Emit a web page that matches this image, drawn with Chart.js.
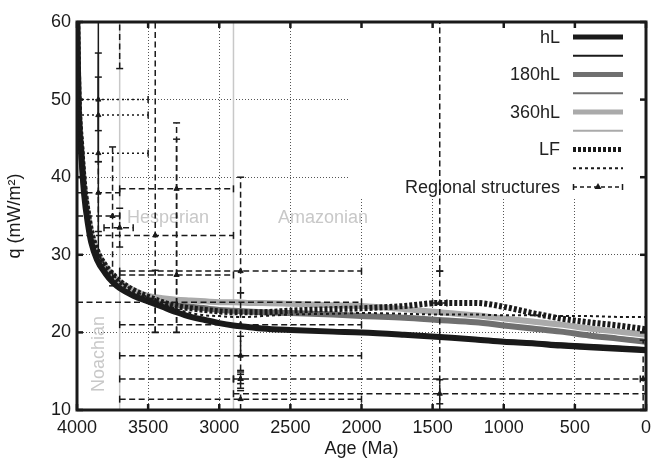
<!DOCTYPE html>
<html><head><meta charset="utf-8">
<script src="https://cdn.jsdelivr.net/npm/chart.js@4/dist/chart.umd.min.js"></script>
<style>html,body{margin:0;padding:0;background:#fff}</style>
</head><body>
<canvas id="c" width="664" height="460" style="width:664px;height:460px"></canvas>
<script>
// ---- data ----
const ages = [4000,3990,3970,3950,3920,3900,3860,3800,3750,3700,3600,3500,3400,3300,3200,3100,3000,2900,2800,2700,2500,2200,2000,1700,1450,1200,1000,800,600,400,200,0];
const qHL      = [62,50,43,37.8,33.6,31.6,29.4,27.6,26.5,25.7,24.7,24.0,23.3,22.6,22.0,21.6,21.2,20.9,20.7,20.5,20.3,20.1,20.0,19.7,19.4,19.1,18.8,18.6,18.3,18.1,17.9,17.7];
const qHLthin  = [62,50,43,37.8,33.6,31.6,29.4,27.6,26.5,25.7,24.7,24.0,23.3,22.6,22.0,21.6,21.2,20.9,20.7,20.5,20.3,20.1,20.0,19.7,19.5,19.2,19.0,18.8,18.6,18.4,18.2,18.0];
const q180     = [62,50.5,43.5,38.8,34.6,32.6,30.3,28.4,27.3,26.4,25.3,24.5,24.0,23.6,23.3,23.1,22.9,22.8,22.7,22.6,22.5,22.3,22.1,21.9,21.6,21.3,20.9,20.5,20.1,19.6,19.2,18.8];
const q180thin = [62,50.5,43.5,38.8,34.6,32.6,30.3,28.4,27.3,26.4,25.3,24.5,24.0,23.6,23.3,23.1,22.9,22.8,22.7,22.6,22.5,22.3,22.1,21.9,21.6,21.3,21.0,20.6,20.2,19.8,19.4,19.0];
const q360     = [62,50.5,43.5,38.8,34.6,32.6,30.4,28.5,27.4,26.5,25.4,24.7,24.4,24.2,24.1,24.0,23.9,23.9,23.8,23.8,23.7,23.5,23.4,23.0,22.6,22.2,21.8,21.4,21.0,20.5,20.1,19.7];
const q360thin = [62,50.5,43.5,38.8,34.6,32.6,30.4,28.5,27.4,26.5,25.4,24.7,24.4,24.2,24.1,24.0,23.9,23.9,23.8,23.8,23.7,23.5,23.4,23.0,22.6,22.2,21.9,21.5,21.1,20.7,20.3,20.0];
const qLF      = [62,51,44,39,35,33,30.6,28.6,27.5,26.6,25.4,24.6,23.9,23.4,23.1,22.9,22.7,22.6,22.6,22.6,22.8,23.0,23.1,23.4,23.8,23.8,23.3,22.5,21.8,21.3,20.9,20.4];
const qLFthin  = [62,51,44,39,35,33,30.6,28.6,27.5,26.6,25.4,24.5,23.7,23.0,22.5,22.2,22.1,22.0,22.0,22.1,22.3,22.4,22.5,22.4,22.3,22.3,22.2,22.2,22.1,22.1,22.0,22.0];

// regional structures (age Ma, age range, heat flow q, q range)
const regAge    = [3850,3850,3850,3850,3750,3700,3700,3300,3450,3300,2850,3450,2850,2850,2850,2850,1450,2850,1450,1450,20];
const regAgeMin = [4000,4000,4000,4000,4000,3810,3750,3700,4000,3700,3700,4000,3700,3700,3700,2900,2900,3700,1500,1500,40];
const regAgeMax = [3500,3500,3500,3700,3700,3605,3650,2900,2900,2900,2000,2000,2000,2000,2900,0,0,2000,1400,1400,0];
const regQ      = [50.0,48.0,43.1,38.0,35.0,33.5,63,38.5,32.5,27.4,27.9,23.9,21.0,17.0,14.0,14.0,12.1,11.4,23.8,65,14.0];
const regQMin   = [46,42,30,33,26,31,54,20,20,20,25.1,20,17,15.1,13.4,12.8,10.8,10,10,27.9,10];
const regQMax   = [65,56,52.9,42,43.9,36,70,47,65,44.9,40,28,25.1,19.5,14.6,14.9,13.9,12.5,27.9,70,19];
const regGroup  = ['b','b','b','a','a','a','a','a','a','a','a','a','a','a','a','a','a','a','a','a','a'];

const periodBounds = [3700, 2900];
const periodNames = ['Noachian','Hesperian','Amazonian'];
const xTicks = [4000,3500,3000,2500,2000,1500,1000,500,0];
const yTicks = [10,20,30,40,50,60];

// ---- build datasets ----
const FONT = "'Liberation Sans', Arial, Helvetica, sans-serif";
const INK = '#1a1a1a';
const mk = (arr) => ages.map((a,i)=>({x:a,y:arr[i]}));
const datasets = [];

periodBounds.forEach(b => datasets.push({
  label:'bound', data:[{x:b,y:10},{x:b,y:60}], borderColor:'#c8c8c8', borderWidth:1.5,
  pointRadius:0, order:100, clip:0
}));

const curve = (label, arr, color, width, dash, order) => ({
  label, data: mk(arr), borderColor: color, borderWidth: width, borderDash: dash,
  pointRadius:0, cubicInterpolationMode:'monotone', order, clip:0, borderCapStyle:'butt'
});
datasets.push(curve('180hL', q180, '#707070', 6, [], 12));
datasets.push(curve('180hL thin', q180thin, '#707070', 2, [], 11.5));
datasets.push(curve('360hL', q360, '#aaaaaa', 6, [], 10));
datasets.push(curve('360hL thin', q360thin, '#aaaaaa', 2, [], 9.5));
datasets.push(curve('hL', qHL, INK, 6, [], 8));
datasets.push(curve('hL thin', qHLthin, INK, 2, [], 7.5));
datasets.push(curve('LF', qLF, INK, 6, [3,2], 6));
datasets.push(curve('LF thin', qLFthin, INK, 2, [3,3], 5.5));

regAge.forEach((a,i) => {
  const dotted = regGroup[i] === 'b';
  datasets.push({
    label:'reg-h', data:[{x:regAgeMin[i],y:regQ[i]},{x:regAgeMax[i],y:regQ[i]}],
    borderColor:INK, borderWidth:1.5, borderDash: dotted ? [2,3] : [6,3.5],
    pointStyle:'line', pointRotation:90, pointRadius:3.5, pointBorderWidth:1.5,
    pointBorderColor:INK, order:2, clip:0
  });
  datasets.push({
    label:'reg-v', data:[{x:a,y:regQMin[i]},{x:a,y:regQMax[i]}],
    borderColor:INK, borderWidth:1.5, borderDash: dotted ? [] : [6,3.5],
    pointStyle:'line', pointRotation:0, pointRadius:3.5, pointBorderWidth:1.5,
    pointBorderColor:INK, order:2, clip:0
  });
});
datasets.push({
  label:'Regional structures', data: regAge.map((a,i)=>({x:a,y:regQ[i]})), showLine:false,
  pointStyle:'triangle', pointRadius:3, backgroundColor:INK, borderColor:INK, borderWidth:1,
  borderDash:[6,3.5], order:1, clip:0
});

// ---- plugins ----
const legendRows = [
  {text:'hL', ds:'hL'}, {text:'', ds:'hL thin'},
  {text:'180hL', ds:'180hL'}, {text:'', ds:'180hL thin'},
  {text:'360hL', ds:'360hL'}, {text:'', ds:'360hL thin'},
  {text:'LF', ds:'LF'}, {text:'', ds:'LF thin'},
  {text:'Regional structures', ds:'Regional structures', reg:true}
];

const underlay = {
  id:'underlay',
  beforeDatasetsDraw(chart){
    const {ctx, chartArea:a, scales:{x,y}} = chart;
    ctx.save();
    ctx.fillStyle = '#c8c8c8';
    ctx.font = '18px ' + FONT;
    ctx.textBaseline = 'alphabetic';
    ctx.textAlign = 'center';
    ctx.fillText(periodNames[1], x.getPixelForValue(3360), 223);
    ctx.fillText(periodNames[2], x.getPixelForValue(2270), 223);
    ctx.save();
    ctx.translate(104, 354);
    ctx.rotate(-Math.PI/2);
    ctx.fillText(periodNames[0], 0, 0);
    ctx.restore();
    ctx.fillStyle = '#fff';
    ctx.fillRect(348, a.top, a.right - 348, 197 - a.top);
    ctx.font = '18px ' + FONT;
    ctx.textAlign = 'right';
    ctx.textBaseline = 'middle';
    legendRows.forEach((r,i) => {
      const yy = 37 + i*18.75;
      const ds = chart.data.datasets.find(d => d.label === r.ds);
      if (r.text) { ctx.fillStyle = '#222'; ctx.fillText(r.text, 560, yy + 1); }
      ctx.save();
      ctx.strokeStyle = ds.borderColor;
      ctx.lineWidth = r.reg ? 1.5 : (ds.borderWidth === 6 ? 5 : 2);
      ctx.setLineDash(r.reg ? [4,3] : (ds.borderDash || []));
      ctx.beginPath(); ctx.moveTo(573, yy); ctx.lineTo(623, yy); ctx.stroke();
      if (r.reg) {
        ctx.setLineDash([]);
        ctx.beginPath();
        ctx.moveTo(573.5, yy-3); ctx.lineTo(573.5, yy+3);
        ctx.moveTo(622.5, yy-3); ctx.lineTo(622.5, yy+3);
        ctx.stroke();
        ctx.fillStyle = INK;
        ctx.beginPath(); ctx.moveTo(598, yy-4); ctx.lineTo(601.5, yy+2); ctx.lineTo(594.5, yy+2); ctx.closePath(); ctx.fill();
      }
      ctx.restore();
    });
    ctx.restore();
  }
};

const frame = {
  id:'frame',
  afterDraw(chart){
    const {ctx, chartArea:a, scales:{x,y}} = chart;
    ctx.save();
    ctx.strokeStyle = INK;
    ctx.lineWidth = 2.5;
    const L = (x1,y1,x2,y2)=>{ctx.beginPath();ctx.moveTo(x1,y1);ctx.lineTo(x2,y2);ctx.stroke();};
    xTicks.forEach(v => { const p = x.getPixelForValue(v); L(p,a.bottom,p,a.bottom-6); L(p,a.top,p,a.top+6); });
    yTicks.forEach(v => { const p = y.getPixelForValue(v); L(a.left,p,a.left+6,p); L(a.right,p,a.right-6,p); });
    ctx.lineWidth = 3;
    ctx.strokeRect(a.left, a.top, a.right-a.left, a.bottom-a.top);
    ctx.restore();
  }
};

new Chart(document.getElementById('c'), {
  type:'line',
  data:{ datasets },
  options:{
    responsive:false, animation:false,
    layout:{ padding:{ left:0, right:18, top:22, bottom:0 } },
    plugins:{ legend:{display:false}, tooltip:{enabled:false} },
    scales:{
      x:{
        type:'linear', reverse:true, min:0, max:4000,
        afterFit(s){ s.height = 50; },
        afterBuildTicks(s){ s.ticks = xTicks.map(v=>({value:v})); },
        ticks:{ color:INK, font:{family:FONT, size:18}, padding:7, maxRotation:0, autoSkip:false,
                callback:(v)=>String(v) },
        grid:{ color:'#555', lineWidth:1, drawTicks:false },
        border:{ display:false, dash:[1,2] },
        title:{ display:true, text:'Age (Ma)', color:INK, font:{family:FONT, size:18}, padding:{top:0,bottom:0} }
      },
      y:{
        type:'linear', min:10, max:60,
        afterFit(s){ s.width = 77; },
        afterBuildTicks(s){ s.ticks = yTicks.map(v=>({value:v})); },
        ticks:{ color:INK, font:{family:FONT, size:18}, padding:6, callback:(v)=>String(v) },
        grid:{ color:'#555', lineWidth:1, drawTicks:false },
        border:{ display:false, dash:[1,2] },
        title:{ display:true, text:'q (mW/m²)', color:INK, font:{family:FONT, size:18}, padding:{top:4,bottom:0} }
      }
    }
  },
  plugins:[underlay, frame]
});
</script>
</body></html>
